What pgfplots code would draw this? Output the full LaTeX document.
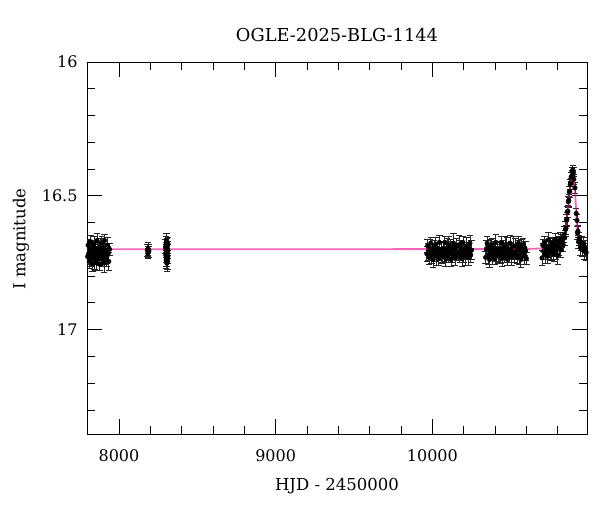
\documentclass[border=0pt]{standalone}
\usepackage{fontspec}
\setmainfont{DejaVu Serif}
\usepackage{pgfplots}
\usepackage{pgfplotstable}
\pgfplotsset{compat=1.18}

% OGLE photometry: HJD-2450000, I mag, error
\pgfplotstableread{
x y e
7800 16.727 0.028
7803 16.685 0.024
7807 16.716 0.031
7811 16.745 0.026
7815 16.700 0.035
7818 16.671 0.022
7822 16.732 0.030
7826 16.707 0.027
7830 16.756 0.028
7833 16.690 0.024
7837 16.721 0.031
7841 16.679 0.026
7845 16.738 0.035
7848 16.696 0.022
7852 16.711 0.030
7856 16.751 0.027
7860 16.667 0.028
7863 16.725 0.024
7867 16.703 0.031
7871 16.735 0.026
7875 16.707 0.035
7878 16.756 0.022
7882 16.690 0.030
7886 16.721 0.027
7890 16.679 0.028
7893 16.738 0.024
7897 16.696 0.031
7901 16.711 0.026
7905 16.751 0.035
7908 16.667 0.022
7912 16.725 0.030
7916 16.703 0.027
7920 16.735 0.028
7923 16.727 0.024
7927 16.685 0.031
7931 16.716 0.026
7935 16.745 0.035
7940 16.700 0.022
8181 16.703 0.022
8184 16.715 0.020
8186 16.698 0.024
8189 16.710 0.021
8191 16.706 0.023
8298 16.690 0.026
8299 16.722 0.028
8300 16.676 0.024
8301 16.741 0.030
8302 16.705 0.025
8303 16.668 0.027
8304 16.733 0.029
8305 16.712 0.024
8306 16.752 0.031
8307 16.684 0.026
8308 16.718 0.028
8309 16.697 0.025
8310 16.745 0.030
8311 16.708 0.027
8312 16.728 0.026
8313 16.680 0.024
9965 16.717 0.028
9970 16.687 0.024
9975 16.709 0.031
9980 16.730 0.026
9985 16.698 0.035
9990 16.677 0.022
9995 16.721 0.030
10000 16.703 0.027
10005 16.738 0.028
10010 16.691 0.024
10015 16.713 0.031
10020 16.683 0.026
10025 16.725 0.035
10030 16.695 0.022
10035 16.706 0.030
10040 16.734 0.027
10045 16.674 0.028
10050 16.716 0.024
10055 16.700 0.031
10060 16.723 0.026
10065 16.723 0.030
10070 16.700 0.027
10075 16.716 0.028
10080 16.674 0.024
10085 16.734 0.031
10090 16.706 0.026
10095 16.695 0.035
10100 16.725 0.022
10105 16.683 0.030
10110 16.713 0.027
10115 16.691 0.028
10120 16.738 0.024
10125 16.703 0.031
10130 16.721 0.026
10135 16.677 0.035
10140 16.698 0.022
10145 16.730 0.030
10150 16.709 0.027
10155 16.687 0.028
10160 16.717 0.024
10165 16.713 0.026
10170 16.683 0.035
10175 16.725 0.022
10180 16.695 0.030
10185 16.706 0.027
10190 16.734 0.028
10195 16.674 0.024
10200 16.716 0.031
10205 16.700 0.026
10210 16.723 0.035
10215 16.717 0.022
10220 16.687 0.030
10225 16.709 0.027
10230 16.730 0.028
10235 16.698 0.024
10240 16.677 0.031
10245 16.721 0.026
10250 16.703 0.035
10340 16.730 0.024
10345 16.698 0.031
10350 16.677 0.026
10355 16.721 0.035
10360 16.703 0.022
10365 16.738 0.030
10370 16.691 0.027
10375 16.713 0.028
10380 16.683 0.024
10385 16.725 0.031
10390 16.695 0.026
10395 16.706 0.035
10400 16.734 0.022
10405 16.674 0.030
10410 16.716 0.027
10415 16.700 0.028
10420 16.723 0.024
10425 16.723 0.031
10430 16.700 0.026
10435 16.716 0.035
10440 16.674 0.022
10445 16.734 0.030
10450 16.706 0.027
10455 16.695 0.028
10460 16.725 0.024
10465 16.683 0.031
10470 16.713 0.026
10475 16.691 0.035
10480 16.738 0.022
10485 16.703 0.030
10490 16.721 0.027
10495 16.677 0.028
10500 16.698 0.024
10505 16.730 0.031
10510 16.709 0.026
10515 16.687 0.035
10520 16.717 0.022
10525 16.717 0.030
10530 16.687 0.027
10535 16.709 0.028
10540 16.730 0.024
10545 16.698 0.031
10550 16.677 0.026
10555 16.721 0.035
10560 16.703 0.022
10565 16.738 0.030
10570 16.691 0.027
10575 16.713 0.028
10580 16.683 0.024
10585 16.725 0.031
10590 16.695 0.026
10595 16.706 0.035
10600 16.734 0.022
10700 16.732 0.028
10705 16.685 0.024
10710 16.707 0.031
10715 16.676 0.026
10720 16.718 0.035
10725 16.688 0.022
10730 16.698 0.030
10735 16.726 0.027
10740 16.665 0.028
10745 16.707 0.024
10750 16.690 0.031
10755 16.713 0.026
10760 16.706 0.035
10765 16.676 0.022
10770 16.697 0.030
10775 16.717 0.027
10780 16.685 0.028
10785 16.663 0.024
10790 16.706 0.031
10795 16.688 0.026
10800 16.722 0.035
10805 16.674 0.022
10810 16.694 0.030
10815 16.662 0.027
10820 16.702 0.028
10825 16.669 0.024
10830 16.676 0.031
10835 16.683 0.026
10840 16.644 0.030
10845 16.657 0.027
10850 16.625 0.028
10853 16.621 0.024
10856 16.590 0.022
10859 16.588 0.025
10862 16.559 0.021
10865 16.558 0.024
10868 16.522 0.020
10871 16.516 0.022
10874 16.485 0.019
10877 16.484 0.021
10880 16.457 0.018
10883 16.454 0.020
10886 16.429 0.017
10889 16.430 0.019
10892 16.409 0.017
10894 16.423 0.018
10896 16.403 0.016
10898 16.421 0.018
10900 16.412 0.017
10903 16.438 0.018
10910 16.470 0.019
10918 16.566 0.021
10923 16.592 0.022
10926 16.638 0.024
10929 16.632 0.023
10933 16.672 0.026
10937 16.660 0.025
10945 16.694 0.027
10952 16.676 0.026
10958 16.700 0.028
10964 16.681 0.026
10970 16.707 0.029
10976 16.694 0.027
10982 16.712 0.028
}\photometry

% microlensing model
\pgfplotstableread{
x y
7796 16.700
10500 16.699
10647 16.698
10767 16.694
10797 16.690
10817 16.684
10827 16.678
10837 16.665
10847 16.638
10852 16.617
10857 16.594
10862 16.565
10867 16.536
10872 16.506
10877 16.477
10882 16.452
10887 16.432
10892 16.419
10897 16.415
10902 16.426
10907 16.456
10912 16.499
10917 16.548
10922 16.595
10927 16.633
10932 16.655
10937 16.670
10947 16.682
10957 16.686
10967 16.688
10987 16.691
}\model

\begin{document}
\begin{tikzpicture}
\useasboundingbox (-87pt,-78pt) rectangle (513pt,434pt);
\begin{axis}[
    anchor=south west, at={(0pt,0pt)},
    scale only axis,
    width=500pt, height=372pt,
    xmin=7796, xmax=10987,
    ymin=16, ymax=17.39,
    y dir=reverse,
    xtick={8000,9000,10000},
    minor xtick={7800,8200,8400,8600,8800,9200,9400,9600,9800,10200,10400,10600,10800},
    ytick={16,16.5,17},
    minor ytick={16.1,16.2,16.3,16.4,16.6,16.7,16.8,16.9,17.1,17.2,17.3},
    scaled x ticks=false,
    tick align=inside,
    xtick pos=both, ytick pos=both,
    major tick length=15pt,
    minor tick length=8pt,
    axis line style={line width=0.9pt},
    tick style={line width=0.8pt, black},
    /pgf/number format/assume math mode=true,
    /pgf/number format/1000 sep={},
    ticklabel style={font=\fontsize{16}{19}\selectfont},
    xticklabel style={yshift=-12pt},
    yticklabel style={xshift=-6pt},
    title={OGLE-2025-BLG-1144},
    title style={font=\fontsize{17.8}{21}\selectfont, at={(axis description cs:0.5,1)}, anchor=base, yshift=15pt},
    xlabel={HJD - 2450000},
    xlabel style={font=\fontsize{16.5}{20}\selectfont, at={(axis description cs:0.5,0)}, anchor=base, yshift=-56pt},
    ylabel={I magnitude},
    ylabel style={font=\fontsize{16.5}{20}\selectfont, at={(axis description cs:-0.132,0.524)}, anchor=center, rotate=0},
    clip=true,
]
\addplot[
    only marks, mark=*, mark size=2.3pt, black,
    error bars/.cd,
        y dir=both, y explicit,
        error bar style={line width=0.8pt, black!85},
        error mark options={rotate=90, mark size=3.2pt, line width=0.7pt, black!85},
] table[x=x, y=y, y error=e] {\photometry};
\addplot[no marks, magenta, opacity=0.6, line width=1.8pt] table[x=x, y=y] {\model};
\end{axis}
\end{tikzpicture}
\end{document}
